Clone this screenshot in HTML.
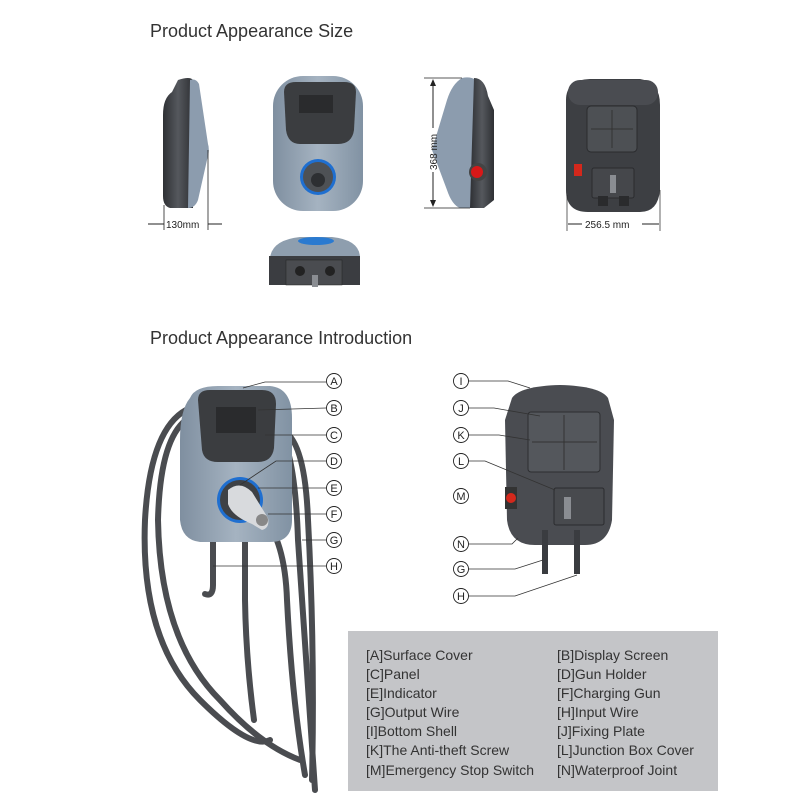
<!DOCTYPE html>
<html><head><meta charset="utf-8"><style>
html,body{margin:0;padding:0;background:#fff}
svg{display:block}
text{font-family:"Liberation Sans",sans-serif}
</style></head><body>
<svg width="800" height="800" viewBox="0 0 800 800" xmlns="http://www.w3.org/2000/svg">
<defs>
<linearGradient id="bg" x1="0" y1="0" x2="1" y2="0"><stop offset="0" stop-color="#7f8fa0"/><stop offset="0.5" stop-color="#a5b3c1"/><stop offset="1" stop-color="#8192a3"/></linearGradient>
<linearGradient id="dk" x1="0" y1="0" x2="1" y2="0"><stop offset="0" stop-color="#2e3034"/><stop offset="0.5" stop-color="#55585d"/><stop offset="1" stop-color="#2e3034"/></linearGradient>
</defs>
<text x="150" y="37" font-size="18" fill="#333">Product Appearance Size</text>
<text x="150" y="344" font-size="18" fill="#333">Product Appearance Introduction</text>

<!-- left side view -->
<path d="M178,80 Q190,76 193,80 L193,208 L170,208 Q163,206 163,196 L163,115 Q163,98 172,92 Z" fill="url(#dk)"/>
<path d="M190,80 Q196,78 199,84 L208,144 Q210,150 207,160 L198,200 Q195,208 188,208 Z" fill="#8c9cae"/>
<line x1="164" y1="205" x2="164" y2="230" stroke="#222" stroke-width="0.8"/>
<line x1="208" y1="150" x2="208" y2="230" stroke="#222" stroke-width="0.8"/>
<line x1="148" y1="224" x2="164" y2="224" stroke="#222"/><line x1="208" y1="224" x2="222" y2="224" stroke="#222"/>
<text x="166" y="228" font-size="10" fill="#222">130mm</text>

<!-- front view -->
<rect x="273" y="76" width="90" height="135" rx="30" fill="url(#bg)"/>
<path d="M284,92 Q284,82 296,82 L344,82 Q356,82 356,92 L354,130 Q352,144 338,144 L300,144 Q288,144 286,130 Z" fill="#3b3d40"/>
<rect x="299" y="95" width="34" height="18" fill="#2a2b2d"/>
<circle cx="318" cy="177" r="18" fill="#1f6fd0"/><circle cx="318" cy="177" r="15" fill="#4e5155"/>
<circle cx="318" cy="180" r="7" fill="#2d2f32"/>

<!-- bottom view -->
<path d="M270,258 Q272,240 300,237 L332,237 Q360,240 360,258 Z" fill="#8e9eae"/>
<ellipse cx="316" cy="241" rx="18" ry="4" fill="#2a7ad0"/>
<rect x="269" y="256" width="91" height="29" fill="#3b3d41"/>
<rect x="286" y="260" width="56" height="25" fill="#4a4c50" stroke="#222" stroke-width="0.5"/>
<circle cx="300" cy="271" r="5" fill="#222"/><circle cx="330" cy="271" r="5" fill="#222"/>
<rect x="312" y="275" width="6" height="12" fill="#8a8d92"/>

<!-- right side view -->
<path d="M462,78 Q470,76 476,80 L480,80 L482,208 L460,208 Q452,205 447,190 L432,150 L447,100 Q452,84 462,78 Z" fill="#8c9cae"/>
<path d="M474,78 Q485,78 488,96 L494,110 L494,200 L484,208 L470,208 Z" fill="url(#dk)"/>
<circle cx="478" cy="172" r="9" fill="#444"/><circle cx="477" cy="172" r="6" fill="#d81818"/>
<line x1="424" y1="78" x2="462" y2="78" stroke="#222" stroke-width="0.7"/>
<line x1="424" y1="208" x2="470" y2="208" stroke="#222" stroke-width="0.7"/>
<line x1="433" y1="80" x2="433" y2="128" stroke="#222"/><line x1="433" y1="172" x2="433" y2="206" stroke="#222"/>
<path d="M430,86 L433,79 L436,86 Z M430,200 L433,207 L436,200 Z" fill="#222"/>
<text x="0" y="0" font-size="10" fill="#222" transform="translate(437,170) rotate(-90)">368 mm</text>

<!-- back view -->
<path d="M566,100 Q566,80 590,79 L640,79 Q660,82 660,105 L660,190 Q658,212 640,212 L588,212 Q566,212 566,190 Z" fill="#3d3f43"/>
<rect x="568" y="80" width="90" height="25" rx="12" fill="#4a4c51"/>
<rect x="587" y="106" width="50" height="46" rx="4" fill="#4d5054" stroke="#2a2b2e"/>
<line x1="612" y1="110" x2="612" y2="148" stroke="#333"/><line x1="591" y1="129" x2="633" y2="129" stroke="#333"/>
<rect x="574" y="164" width="8" height="12" fill="#d4281c"/>
<rect x="592" y="168" width="42" height="30" rx="2" fill="#45474b" stroke="#2a2b2e"/>
<rect x="610" y="175" width="6" height="18" fill="#8a8d92"/>
<rect x="598" y="196" width="10" height="10" fill="#2a2b2d"/><rect x="619" y="196" width="10" height="10" fill="#2a2b2d"/>
<line x1="567" y1="195" x2="567" y2="231" stroke="#222" stroke-width="0.7"/>
<line x1="660" y1="190" x2="660" y2="231" stroke="#222" stroke-width="0.7"/>
<line x1="568" y1="224" x2="582" y2="224" stroke="#222"/><line x1="642" y1="224" x2="659" y2="224" stroke="#222"/>
<text x="585" y="228" font-size="10" fill="#222">256.5 mm</text>

<!-- left charger cables -->
<g fill="none" stroke="#4a4c50" stroke-width="6" stroke-linecap="round">
<path d="M186,410 Q150,430 145,520 Q140,640 200,700 Q250,750 270,740"/>
<path d="M186,420 Q160,440 158,520 Q160,640 220,700 Q260,745 300,760"/>
<path d="M278,430 Q295,450 298,540 Q305,650 315,790"/>
<path d="M282,430 Q305,440 308,520 Q315,650 312,780"/>
<path d="M262,515 Q285,540 287,600 Q292,700 305,775"/>
<path d="M213,540 L213,585 Q213,597 205,594"/>
<path d="M245,540 L245,600 Q246,660 254,720"/>
</g>
<path d="M190,398 Q195,386 218,386 L270,386 Q292,388 292,418 L292,520 Q292,542 270,542 L200,542 Q182,540 180,520 L180,440 Q180,410 190,398 Z" fill="url(#bg)"/>
<path d="M198,400 Q198,390 210,390 L262,390 Q276,390 276,404 L274,448 Q272,462 258,462 L218,462 Q204,462 202,450 Z" fill="#3b3d40"/>
<rect x="216" y="407" width="40" height="26" fill="#2a2b2d"/>
<circle cx="240" cy="500" r="23" fill="#1f6fd0"/><circle cx="240" cy="500" r="20" fill="#3e4145"/>
<path d="M228,490 Q240,480 252,492 L268,518 Q270,528 262,530 L252,524 Q232,516 228,504 Z" fill="#d8dadd"/>
<circle cx="262" cy="520" r="6" fill="#888"/>

<!-- right back view -->
<path d="M512,398 Q520,386 560,385 Q600,386 608,398 L614,420 L612,520 Q608,545 585,545 L535,545 Q510,545 507,520 L505,420 Z" fill="#4a4c51"/>
<rect x="528" y="412" width="72" height="60" rx="3" fill="#54575c" stroke="#2d2e31"/>
<line x1="564" y1="415" x2="564" y2="470" stroke="#333"/><line x1="532" y1="442" x2="597" y2="442" stroke="#333"/>
<rect x="505" y="487" width="12" height="22" fill="#333"/><circle cx="511" cy="498" r="5" fill="#d4281c"/>
<rect x="554" y="488" width="50" height="37" rx="2" fill="#484a4e" stroke="#2a2b2e"/>
<rect x="564" y="497" width="7" height="22" fill="#8a8d92"/>
<g stroke="#3a3c40" stroke-width="6"><line x1="545" y1="530" x2="545" y2="574"/><line x1="577" y1="530" x2="577" y2="574"/></g>

<!-- leader lines -->
<g fill="none" stroke="#333" stroke-width="0.8">
<path d="M243,388 L265,382 L326,382"/><path d="M258,410 L326,408"/><path d="M265,435 L326,435"/>
<path d="M240,485 L276,461 L326,461"/><path d="M258,488 L326,488"/><path d="M268,514 L326,514"/>
<path d="M302,540 L326,540"/><path d="M213,566 L326,566"/>
<path d="M468,381 L508,381 L530,388"/><path d="M468,408 L494,408 L540,416"/><path d="M468,435 L499,435 L530,440"/>
<path d="M468,461 L485,461 L555,490"/><path d="M468,544 L512,544 L518,538"/>
<path d="M468,569 L515,569 L543,560"/><path d="M468,596 L515,596 L577,575"/>
</g>
<g font-size="11" fill="#222" text-anchor="middle">
<g fill="#fff" stroke="#222" stroke-width="0.9">
<circle cx="334" cy="381" r="7.5"/><circle cx="334" cy="408" r="7.5"/><circle cx="334" cy="435" r="7.5"/><circle cx="334" cy="461" r="7.5"/>
<circle cx="334" cy="488" r="7.5"/><circle cx="334" cy="514" r="7.5"/><circle cx="334" cy="540" r="7.5"/><circle cx="334" cy="566" r="7.5"/>
<circle cx="461" cy="381" r="7.5"/><circle cx="461" cy="408" r="7.5"/><circle cx="461" cy="435" r="7.5"/><circle cx="461" cy="461" r="7.5"/>
<circle cx="461" cy="496" r="7.5"/><circle cx="461" cy="544" r="7.5"/><circle cx="461" cy="569" r="7.5"/><circle cx="461" cy="596" r="7.5"/>
</g>
<text x="334" y="385">A</text><text x="334" y="412">B</text><text x="334" y="439">C</text><text x="334" y="465">D</text>
<text x="334" y="492">E</text><text x="334" y="518">F</text><text x="334" y="544">G</text><text x="334" y="570">H</text>
<text x="461" y="385">I</text><text x="461" y="412">J</text><text x="461" y="439">K</text><text x="461" y="465">L</text>
<text x="461" y="500">M</text><text x="461" y="548">N</text><text x="461" y="573">G</text><text x="461" y="600">H</text>
</g>

<!-- legend -->
<rect x="348" y="631" width="370" height="160" fill="#c4c5c8"/>
<g font-size="14" fill="#333">
<text x="366" y="660">[A]Surface Cover</text><text x="557" y="660">[B]Display Screen</text>
<text x="366" y="679">[C]Panel</text><text x="557" y="679">[D]Gun Holder</text>
<text x="366" y="698">[E]Indicator</text><text x="557" y="698">[F]Charging Gun</text>
<text x="366" y="717">[G]Output Wire</text><text x="557" y="717">[H]Input Wire</text>
<text x="366" y="736">[I]Bottom Shell</text><text x="557" y="736">[J]Fixing Plate</text>
<text x="366" y="755">[K]The Anti-theft Screw</text><text x="557" y="755">[L]Junction Box Cover</text>
<text x="366" y="775">[M]Emergency Stop Switch</text><text x="557" y="775">[N]Waterproof Joint</text>
</g>
</svg>
</body></html>
